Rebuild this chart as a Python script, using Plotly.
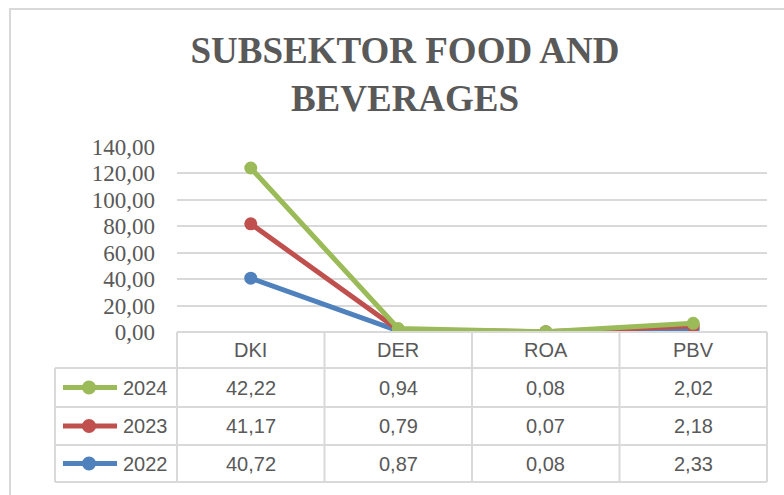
import plotly.graph_objects as go

categories = ["DKI", "DER", "ROA", "PBV"]
years = ["2022", "2023", "2024"]
values_2022 = [40.72, 0.87, 0.08, 2.33]
values_2023 = [41.17, 0.79, 0.07, 2.18]
values_2024 = [42.22, 0.94, 0.08, 2.02]
series = {"2022": values_2022, "2023": values_2023, "2024": values_2024}
colors = {"2022": "#4F81BD", "2023": "#C0504D", "2024": "#9BBB59"}
title_text = "SUBSEKTOR FOOD AND<br>BEVERAGES"

W, H = 784, 495
L, R, T, B = 177, 17, 147, 163
PW = W - L - R
PH = H - T - B
GRID = "#D9D9D9"
TXT = "#595959"


def px_x(px):
    return (px - L) / PW


def px_y(py):
    return (H - B - py) / PH


fig = go.Figure()
for y in years:
    fig.add_trace(go.Scatter(
        x=categories, y=series[y], name=y, mode="lines+markers",
        stackgroup="one", fill="none",
        line=dict(color=colors[y], width=5),
        marker=dict(color=colors[y], size=13),
        showlegend=False,
    ))

shapes = []
annotations = []

# outer frame
shapes.append(dict(type="rect", xref="paper", yref="paper",
                   x0=px_x(10), x1=px_x(800), y0=px_y(9), y1=px_y(510),
                   line=dict(color=GRID, width=2), fillcolor="rgba(0,0,0,0)", layer="below"))

# table geometry (pixels)
header_top, header_bot = 332, 368
row_lines = [368, 407, 445, 482]
left_x = 55
ncat = len(categories)
col_edges = [L + PW * k / ncat for k in range(ncat + 1)]

line_style = dict(color=GRID, width=2)
shapes.append(dict(type="line", xref="paper", yref="paper", x0=px_x(col_edges[0]), x1=px_x(col_edges[-1]),
                   y0=px_y(header_top), y1=px_y(header_top), line=line_style))
for ry in row_lines:
    shapes.append(dict(type="line", xref="paper", yref="paper", x0=px_x(left_x), x1=px_x(col_edges[-1]),
                       y0=px_y(ry), y1=px_y(ry), line=line_style))
for cx in col_edges:
    shapes.append(dict(type="line", xref="paper", yref="paper", x0=px_x(cx), x1=px_x(cx),
                       y0=px_y(header_top), y1=px_y(row_lines[-1]), line=line_style))
shapes.append(dict(type="line", xref="paper", yref="paper", x0=px_x(left_x), x1=px_x(left_x),
                   y0=px_y(row_lines[0]), y1=px_y(row_lines[-1]), line=line_style))

cell_font = dict(family="Liberation Sans, Arial, sans-serif", size=20, color=TXT)

hy = (header_top + header_bot) / 2
for c in categories:
    annotations.append(dict(x=c, y=px_y(hy), xref="x", yref="paper", text=c, showarrow=False,
                            font=cell_font, xanchor="center", yanchor="middle"))

row_order = ["2024", "2023", "2022"]
for i, yr in enumerate(row_order):
    cy = (row_lines[i] + row_lines[i + 1]) / 2
    for c, v in zip(categories, series[yr]):
        annotations.append(dict(x=c, y=px_y(cy), xref="x", yref="paper",
                                text=f"{v:.2f}".replace(".", ","), showarrow=False,
                                font=cell_font, xanchor="center", yanchor="middle"))
    annotations.append(dict(x=px_x(121), y=px_y(cy), xref="paper", yref="paper", text=yr,
                            showarrow=False, font=cell_font, xanchor="left", yanchor="middle"))
    shapes.append(dict(type="line", xref="paper", yref="paper", x0=px_x(63), x1=px_x(117),
                       y0=px_y(cy), y1=px_y(cy), line=dict(color=colors[yr], width=5)))
    shapes.append(dict(type="circle", xref="paper", yref="paper",
                       x0=px_x(89 - 7), x1=px_x(89 + 7), y0=px_y(cy + 7), y1=px_y(cy - 7),
                       line=dict(color=colors[yr], width=0), fillcolor=colors[yr]))

fig.update_layout(
    width=W, height=H,
    margin=dict(l=L, r=R, t=T, b=B),
    paper_bgcolor="white", plot_bgcolor="white",
    separators=",.",
    title=dict(text=f"<b>{title_text}</b>", xref="container", yref="container",
               x=405 / W, y=1 - 63 / H, xanchor="center", yanchor="middle",
               font=dict(family="Liberation Serif, Times New Roman, serif", size=37, color=TXT)),
    xaxis=dict(type="category", categoryarray=categories, range=[-0.5, ncat - 0.5],
               showticklabels=False, showgrid=False, zeroline=False, showline=False, fixedrange=True),
    yaxis=dict(range=[0, 140], dtick=20, tickformat=".2f", showgrid=True, gridcolor=GRID, gridwidth=1.5,
               zeroline=False, showline=False, ticks="", ticklabelstandoff=21,
               tickfont=dict(family="Liberation Serif, Times New Roman, serif", size=23, color=TXT)),
    shapes=shapes,
    annotations=annotations,
)

fig.write_html("out.html", config={"displayModeBar": False},
               post_script="document.body.style.margin='0';document.body.style.overflow='hidden';")
